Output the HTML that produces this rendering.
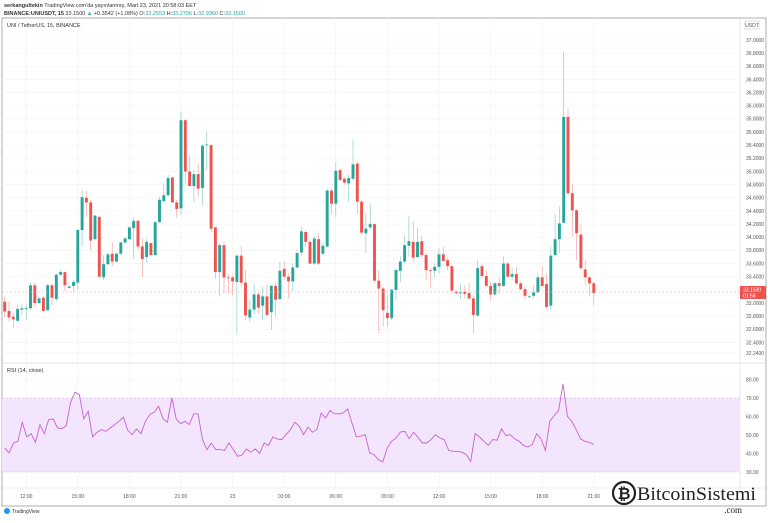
<!DOCTYPE html>
<html><head><meta charset="utf-8"><style>
body{margin:0;background:#fff;width:768px;height:518px;overflow:hidden;font-family:"Liberation Sans",sans-serif}
svg text{font-family:"Liberation Sans",sans-serif}
</style></head><body>
<svg id="c" width="768" height="518" viewBox="0 0 768 518">
<text x="4" y="7" font-size="5.5" fill="#333"><tspan font-weight="bold">serkangultekin</tspan> TradingView.com'da yayınlanmış, Mart 23, 2021 20:58:03 EET</text>
<text x="4" y="15" font-size="5.5" fill="#333"><tspan font-weight="bold">BINANCE:UNIUSDT, 15</tspan> 33.1500 <tspan fill="#26a69a">▲</tspan> +0.3542 (+1.08%) O:<tspan fill="#26a69a">33.2553</tspan> H:<tspan fill="#26a69a">33.2796</tspan> L:<tspan fill="#26a69a">32.9360</tspan> C:<tspan fill="#26a69a">33.1500</tspan></text>
<rect x="2" y="18" width="764" height="488" fill="none" stroke="#9a9a9a" stroke-width="0.8"/>
<line x1="2" y1="363" x2="766" y2="363" stroke="#ccc" stroke-width="0.6"/>
<line x1="740" y1="18" x2="740" y2="488" stroke="#ddd" stroke-width="0.6"/>
<line x1="2" y1="488" x2="766" y2="488" stroke="#ddd" stroke-width="0.6"/>
<g id="grid"></g>
<rect x="2" y="398" width="738" height="74" fill="#f3e5fc"/>
<line x1="2" y1="398" x2="740" y2="398" stroke="#c9a8d8" stroke-width="0.5" stroke-dasharray="2,2"/>
<line x1="2" y1="472" x2="740" y2="472" stroke="#c9a8d8" stroke-width="0.5" stroke-dasharray="2,2"/>
<g id="candles"></g>
<line x1="2" y1="292" x2="740" y2="292" stroke="#f4a3a3" stroke-width="0.5" stroke-dasharray="2,2"/>
<polyline id="rsi" fill="none" stroke="#c561d6" stroke-width="0.9"/>
<g id="axes"></g>
<text x="7" y="27" font-size="5.5" fill="#333">UNI / TetherUS, 15, BINANCE</text>
<text x="7" y="372" font-size="5.5" fill="#333">RSI (14, close)</text>
<rect x="745" y="21" width="14" height="8" fill="#fff" stroke="#bbb" stroke-width="0.5"/>
<text x="752" y="27" font-size="5" fill="#555" text-anchor="middle">USDT</text>
<rect x="740" y="286" width="26" height="13" fill="#ef5350"/>
<text x="743" y="291.5" font-size="5" fill="#fff">33.1500</text>
<text x="743" y="297.5" font-size="5" fill="#fff">01:58</text>
<g><circle cx="7" cy="511" r="3" fill="#2196f3"/><text x="12" y="513" font-size="5" fill="#333">TradingView</text></g>
<g>
<circle cx="624" cy="493" r="11" fill="#fff" stroke="#222" stroke-width="2.2"/>
<text x="624" y="499" font-size="16" font-weight="bold" fill="#222" text-anchor="middle">₿</text>
<text x="637" y="500" font-size="19" fill="#222" textLength="119" lengthAdjust="spacingAndGlyphs" style="font-family:'Liberation Serif',serif">BitcoinSistemi</text>
<text x="742" y="513" font-size="9" fill="#222" text-anchor="end" style="font-family:'Liberation Serif',serif">.com</text>
</g>
</svg>
<script>
const opens=[33.02,32.88,32.79,32.73,32.90,32.91,32.92,33.27,33.00,33.08,32.89,33.27,33.06,33.43,33.47,33.23,33.26,33.31,34.11,34.60,34.53,33.97,34.31,33.39,33.59,33.75,33.63,33.75,33.92,33.97,34.14,34.25,33.86,33.70,33.91,33.73,34.23,34.55,34.64,34.91,34.53,34.44,35.78,35.00,34.78,34.96,34.75,35.40,35.40,34.15,33.47,33.88,33.39,33.39,33.32,33.72,33.31,32.78,32.90,33.13,32.96,33.10,32.86,33.26,33.06,33.52,33.40,33.33,33.54,33.77,34.08,33.93,33.60,33.97,33.75,33.86,34.71,34.51,35.02,34.89,34.82,34.89,35.12,34.54,34.06,34.15,34.20,33.34,33.22,32.85,32.77,33.20,33.49,33.63,33.87,33.93,33.70,33.94,33.73,33.50,33.49,33.55,33.74,33.65,33.56,33.17,33.15,33.17,33.15,33.07,32.81,33.56,33.41,33.26,33.13,33.30,33.26,33.60,33.40,33.44,33.30,33.21,33.09,33.11,33.16,33.39,33.29,32.96,33.73,33.97,34.22,35.83,34.67,34.41,34.04,33.51,33.39,33.30];
const highs=[33.10,33.02,32.84,32.97,32.99,32.99,33.31,33.31,33.10,33.10,33.29,33.30,33.45,33.51,33.48,33.27,33.35,34.12,34.72,34.71,34.57,34.34,34.32,33.73,33.76,33.92,33.77,33.93,34.01,34.16,34.30,34.26,33.98,33.98,33.92,34.25,34.62,34.82,34.95,34.92,34.57,35.91,35.79,35.25,35.03,35.12,35.43,35.61,35.42,34.16,33.91,33.93,33.45,33.42,33.74,33.87,33.50,33.05,33.30,33.17,33.25,33.27,33.27,33.32,33.63,33.63,33.45,33.60,33.81,34.16,34.11,33.98,34.02,34.06,33.91,34.74,34.74,35.15,35.05,34.91,34.95,35.49,35.15,34.57,34.36,34.51,34.21,33.50,33.25,33.12,33.22,33.53,33.71,34.03,34.32,34.24,34.14,34.03,33.76,33.53,33.60,33.83,33.86,33.68,33.58,33.19,33.30,33.27,33.30,33.10,33.65,33.59,33.50,33.32,33.32,33.39,33.71,33.63,33.53,33.55,33.32,33.25,33.12,33.27,33.45,33.56,33.45,33.86,34.36,34.47,36.82,35.96,34.82,34.42,34.19,33.65,33.40,33.32];
const lows=[32.79,32.72,32.62,32.72,32.82,32.74,32.90,32.94,32.99,32.87,32.88,32.97,33.02,33.41,33.19,33.22,33.17,33.20,33.86,34.31,33.80,33.96,33.39,33.35,33.58,33.56,33.62,33.73,33.91,33.96,33.67,33.81,33.39,33.62,33.71,33.71,34.21,34.52,34.62,34.52,34.30,34.34,34.82,34.77,34.53,34.62,34.49,35.02,34.08,33.37,33.10,33.15,33.15,33.12,32.52,33.25,32.74,32.71,32.82,32.84,32.74,32.79,32.59,32.79,33.05,33.35,33.07,33.17,33.53,33.71,33.86,33.59,33.58,33.58,33.71,33.83,34.36,34.31,34.85,34.80,34.54,34.87,34.36,34.03,33.76,34.12,33.32,32.54,32.64,32.64,32.74,33.05,33.32,33.60,33.71,33.63,33.68,33.70,33.35,33.24,33.40,33.45,33.63,33.50,33.15,33.13,33.06,33.07,33.05,32.53,32.79,33.39,33.25,33.05,33.12,33.14,33.24,33.39,33.35,33.27,33.20,33.05,33.07,33.07,33.16,33.25,32.92,32.90,33.71,33.76,34.21,34.64,34.01,33.65,33.50,33.27,33.10,32.97];
const closes=[32.87,32.78,32.75,32.91,32.92,32.92,33.27,33.00,33.07,32.88,33.27,33.08,33.43,33.47,33.27,33.25,33.32,34.11,34.61,34.53,33.95,34.33,33.40,33.59,33.74,33.63,33.75,33.92,33.98,34.15,34.25,33.86,33.67,33.93,33.73,34.23,34.57,34.64,34.90,34.53,34.43,35.78,35.00,34.78,34.96,34.74,35.39,35.41,34.13,33.47,33.88,33.39,33.38,33.33,33.72,33.31,32.81,32.90,33.13,32.93,33.10,32.82,33.26,33.05,33.49,33.40,33.33,33.54,33.76,34.09,33.93,33.60,33.98,33.60,33.87,34.71,34.51,35.01,34.87,34.83,34.90,35.11,34.54,34.07,34.13,34.20,33.34,33.22,32.89,32.77,33.20,33.50,33.63,33.88,33.94,33.69,33.93,33.73,33.50,33.49,33.55,33.74,33.64,33.56,33.19,33.15,33.16,33.14,33.07,32.82,33.53,33.41,33.26,33.13,33.30,33.26,33.60,33.40,33.44,33.30,33.21,33.11,33.10,33.16,33.39,33.26,32.94,33.72,33.97,34.21,35.83,34.67,34.41,34.06,33.53,33.39,33.30,33.15];
const rsiValues=[43,40.3,45.7,46.6,56.9,49,50.7,46,55.6,50.7,58.3,58.7,53.8,53.4,55,67.7,73.2,71.8,58.7,62.8,49,51.5,52.9,52,53.8,55.6,57.4,59.7,52.5,50.2,53.3,50.7,57.4,61,62.3,65.5,58.7,56.9,70,58.7,56.1,57.4,55.6,61.4,61.4,47.5,42.1,45.7,42.1,42.1,41.7,45.7,42.1,38.5,39.2,42.5,40.7,42.5,40,45.7,44.3,49,47.9,47.5,50.2,52.9,56.9,54.7,50.2,54.3,51.5,52.9,61.9,59.2,63.3,61.5,61.4,61.9,64.1,56.5,49,49.4,50.2,40.3,39.4,36.7,35.4,43,46.6,48.4,51.6,52,48,51.5,48.8,45.7,45.7,47.5,50.2,48.4,47.5,41.7,41.2,41.2,40.7,39.4,35.8,50.7,49,46.6,44.3,47.5,47.2,53.3,49.7,50.2,47.9,46.6,44.3,43.5,44.8,50.7,48,41.7,57.4,60.5,63.3,77.7,60.1,57.4,52.9,47.9,46.6,46,44.8];
const priceTicks=[37.0,36.8,36.6,36.4,36.2,36.0,35.8,35.6,35.4,35.2,35.0,34.8,34.6,34.4,34.2,34.0,33.8,33.6,33.4,33.2,33.0,32.8,32.6,32.4,32.24];
const rsiTicks=[80,70,60,50,40,30];
const timeLabels=["12:00","15:00","18:00","21:00","23","03:00","06:00","09:00","12:00","15:00","18:00","21:00"];
const timeLabelIndex=[6,18,30,42,54,66,78,90,102,114,126,138];

const NS="http://www.w3.org/2000/svg";
const X0=4.7,DX=4.3;
function xs(i){return X0+i*DX;}
function ys(p){return 40+(37-p)*65.75;}
function yr(v){return 398+(70-v)*1.85;}
function mk(tag,attrs,parent){const e=document.createElementNS(NS,tag);for(const k in attrs)e.setAttribute(k,attrs[k]);parent.appendChild(e);return e;}
const grid=document.getElementById('grid'),axes=document.getElementById('axes'),cg=document.getElementById('candles');
priceTicks.forEach(p=>{
  mk('line',{x1:2,x2:740,y1:ys(p),y2:ys(p),stroke:'#f2f2f2','stroke-width':0.6},grid);
  const t=mk('text',{x:746,y:ys(p)+1.8,'font-size':5,fill:'#555'},axes);
  
  
  t.textContent=p.toFixed(4);
});
rsiTicks.forEach(v=>{
  mk('line',{x1:2,x2:740,y1:yr(v),y2:yr(v),stroke:'#f2f2f2','stroke-width':0.6},grid);
  const t=mk('text',{x:746,y:yr(v)+1.8,'font-size':5,fill:'#555'},axes);
  
  
  t.textContent=v.toFixed(2);
});
timeLabels.forEach((s,k)=>{
  const x=xs(timeLabelIndex[k]-1);
  mk('line',{x1:x,x2:x,y1:18,y2:488,stroke:'#f2f2f2','stroke-width':0.6},grid);
  const t=mk('text',{x:x,y:498,'font-size':5,fill:'#555','text-anchor':'middle'},axes);
  
  
  t.textContent=s;
});
for(let i=0;i<closes.length;i++){
  const up=closes[i]>=opens[i],col=up?'#26a69a':'#ef5350',x=xs(i);
  const g=mk('g',{},cg);
  
  
  mk('line',{x1:x,x2:x,y1:ys(highs[i]),y2:ys(lows[i]),stroke:col,'stroke-width':0.6,'stroke-opacity':0.6},g);
  const top=ys(Math.max(opens[i],closes[i])),bot=ys(Math.min(opens[i],closes[i]));
  mk('rect',{x:x-1.45,y:top,width:2.9,height:Math.max(0.8,bot-top),fill:col},g);
}
const n=rsiValues.length;
document.getElementById('rsi').setAttribute('points',rsiValues.map((v,i)=>xs(i*(closes.length-1)/(n-1)).toFixed(1)+','+yr(v).toFixed(1)).join(' '));
</script>
</body></html>
